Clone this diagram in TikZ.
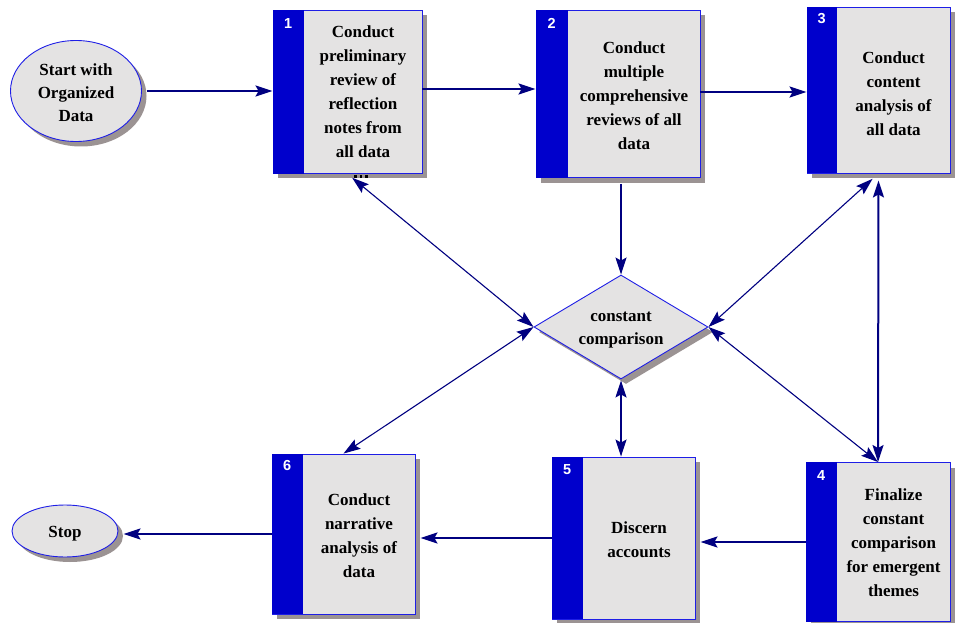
\documentclass[tikz,border=0pt]{standalone}
\usepackage{fontspec}
\setmainfont{Liberation Serif}
\newfontfamily\numfont{Liberation Sans}
\usetikzlibrary{arrows.meta,shapes.geometric,shadows}
\definecolor{navyline}{RGB}{0,0,128}
\definecolor{boxblue}{RGB}{30,30,230}
\definecolor{stripblue}{RGB}{0,0,204}
\definecolor{boxgray}{RGB}{228,227,227}
\definecolor{shadowgray}{RGB}{155,147,147}
\begin{document}
\begin{tikzpicture}[x=1pt,y=-1pt,
  shad/.style={drop shadow={shadow xshift=5pt,shadow yshift=-5pt,fill=shadowgray,opacity=1}},
  stepbox/.style={draw=boxblue,fill=boxgray,line width=0.9pt,inner sep=0,shad},
  strip/.style={fill=stripblue},
  numtxt/.style={text=white,font=\numfont\bfseries\fontsize{14.5}{14.5}\selectfont,inner sep=0},
  txt/.style={font=\bfseries\fontsize{17}{24}\selectfont,align=center,inner sep=0},
  endpt/.style={ellipse,draw=boxblue,fill=boxgray,line width=0.9pt,inner sep=0,shad},
  tipA/.tip={Stealth[length=17pt,width=11pt,inset=3pt]},
  flow/.style={draw=navyline,line width=2pt,-tipA},
  dflow/.style={draw=navyline,line width=1.1pt,tipA-tipA},
  dflowb/.style={draw=navyline,line width=2pt,tipA-tipA}]
\useasboundingbox (0,0) rectangle (956,623);

% start / stop
\node[endpt,minimum width=131,minimum height=101] (start) at (76,91) {};
\node[txt,font=\bfseries\fontsize{17}{23}\selectfont] (tstart) at (76,93) {Start with\\Organized\\Data};
\node[endpt,minimum width=106,minimum height=52] (stop) at (65,531) {};
\node[txt] (tstop) at (65,534) {Stop};

% boxes
\node[stepbox,minimum width=149,minimum height=163] (b1) at (347.5,92) {};
\fill[strip] (b1.north west) rectangle ([xshift=31pt]b1.south west);
\node[numtxt] (n1) at ([shift={(15.5,13)}]b1.north west) {1};
\node[txt] (t1) at ([shift={(15.5,0)}]b1.center) {Conduct\\preliminary\\review of\\reflection\\notes from\\all data};
\foreach \dx in {354,359.5,365} \fill[black] (\dx,175) rectangle ++(2.6,2.6);

\node[stepbox,minimum width=164,minimum height=167] (b2) at (618,94) {};
\fill[strip] (b2.north west) rectangle ([xshift=32pt]b2.south west);
\node[numtxt] (n2) at ([shift={(16,13)}]b2.north west) {2};
\node[txt] (t2) at ([shift={(16,2)}]b2.center) {Conduct\\multiple\\comprehensive\\reviews of all\\data};

\node[stepbox,minimum width=143,minimum height=166] (b3) at (878.5,90) {};
\fill[strip] (b3.north west) rectangle ([xshift=30pt]b3.south west);
\node[numtxt] (n3) at ([shift={(15,12)}]b3.north west) {3};
\node[txt] (t3) at ([shift={(15,4)}]b3.center) {Conduct\\content\\analysis of\\all data};

\node[stepbox,minimum width=144,minimum height=159] (b4) at (878,542) {};
\fill[strip] (b4.north west) rectangle ([xshift=31pt]b4.south west);
\node[numtxt] (n4) at ([shift={(15.5,13)}]b4.north west) {4};
\node[txt] (t4) at ([shift={(15.5,1)}]b4.center) {Finalize\\constant\\comparison\\for emergent\\themes};

\node[stepbox,minimum width=143,minimum height=162] (b5) at (623.5,538) {};
\fill[strip] (b5.north west) rectangle ([xshift=31pt]b5.south west);
\node[numtxt] (n5) at ([shift={(15.5,13)}]b5.north west) {5};
\node[txt] (t5) at ([shift={(15.5,2)}]b5.center) {Discern\\accounts};

\node[stepbox,minimum width=143,minimum height=160] (b6) at (343.5,534) {};
\fill[strip] (b6.north west) rectangle ([xshift=31pt]b6.south west);
\node[numtxt] (n6) at ([shift={(15.5,12)}]b6.north west) {6};
\node[txt] (t6) at ([shift={(15.5,2)}]b6.center) {Conduct\\narrative\\analysis of\\data};

% decision
\node[diamond,draw=boxblue,fill=boxgray,line width=0.9pt,shad,inner sep=0,aspect=1.7,minimum width=174,minimum height=104] (dia) at (621,327) {};
\node[txt,font=\bfseries\fontsize{17}{23}\selectfont] (tdia) at (621,330) {constant\\comparison};

% connectors
\draw[flow,shorten <=5pt] (start.east) -- (start.east -| b1.west);
\draw[flow] ([yshift=3pt]b1.east) -- ([yshift=3pt]b1.east -| b2.west);
\draw[flow] ([yshift=2pt]b2.east) -- ([yshift=2pt]b2.east -| b3.west);
\draw[flow,line width=1.5pt,shorten <=6pt] (dia.north |- b2.south) -- (dia.north);
\draw[dflow,shorten <=6pt] (b1.south) -- (dia.west);
\draw[dflow] (dia.west) -- (b6.north);
\draw[dflow,shorten >=8pt] (dia.east) -- (b3.south);
\draw[dflowb,shorten <=7pt] (b3.south) -- (b4.north);
\draw[dflow] (dia.east) -- (b4.north);
\draw[dflowb,line width=1.5pt,shorten <=1pt] (dia.south) -- (dia.south |- b5.north);
\draw[flow,shorten >=5pt] (b4.west) -- (b4.west -| b5.east);
\draw[flow,shorten >=5pt] (b5.west) -- (b5.west -| b6.east);
\draw[flow,shorten >=5pt] (b6.west) -- (b6.west -| stop.east);
\end{tikzpicture}
\end{document}
